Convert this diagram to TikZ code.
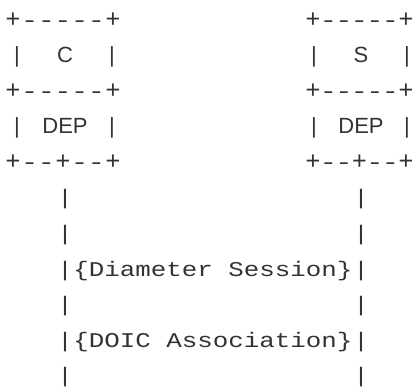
\documentclass[tikz,border=0pt]{standalone}
\usepackage{fontspec}
\newfontfamily\boxfont{Liberation Sans}
\newfontfamily\codefont{Liberation Mono}
\definecolor{ink}{HTML}{333333}
\begin{document}
\begin{tikzpicture}[x=1pt,y=-1pt,
  bglyph/.style={inner sep=0pt, anchor=base, text=ink, font=\boxfont\fontsize{22}{22}\selectfont},
  mglyph/.style={inner sep=0pt, anchor=base, text=ink, font=\codefont\fontsize{21}{21}\selectfont}]
\useasboundingbox (0,0) rectangle (417,387);
% rows: baseline y = 27.5 + 35.5 r
% left box (x0 = 13, pitch 16.67), right box (x0 = 313, pitch 15.5)
\foreach \b/\xa/\p/\xl/\xr in {l/13/16.67/17/112, r/313/15.5/314/407}{
  \foreach \r in {0,2}{
    \node[bglyph] (\b p\r a) at (\xa, 27.5+35.5*\r) {\scalebox{1.15}{+}};
    \node[bglyph] (\b p\r b) at (\xa+6*\p, 27.5+35.5*\r) {\scalebox{1.15}{+}};
    \foreach \k in {1,...,5}{
      \node[bglyph] (\b d\r\k) at (\xa+\k*\p, 27.5+35.5*\r) {\scalebox{1.45}[1]{-}};
    }
  }
  \node[bglyph] (\b p4a) at (\xa, 169.5) {\scalebox{1.15}{+}};
  \node[bglyph] (\b p4m) at (\xa+3*\p, 169.5) {\scalebox{1.15}{+}};
  \node[bglyph] (\b p4b) at (\xa+6*\p, 169.5) {\scalebox{1.15}{+}};
  \foreach \k in {1,2,4,5}{
    \node[bglyph] (\b d4\k) at (\xa+\k*\p, 169.5) {\scalebox{1.45}[1]{-}};
  }
  \foreach \r in {1,3}{
    \node[bglyph] (\b v\r a) at (\xl, 27.5+35.5*\r) {|};
    \node[bglyph] (\b v\r b) at (\xr, 27.5+35.5*\r) {|};
  }
}
\node[bglyph] (lname) at (65, 63) {C};
\node[bglyph] (ldep) at (65, 134) {DEP};
\node[bglyph] (rname) at (361, 63) {S};
\node[bglyph] (rdep) at (361, 134) {DEP};
% vertical lines
\foreach \r in {5,...,10}{
  \node[mglyph] (lv\r) at (65, 27.5+35.5*\r) {\scalebox{1.23}[1]{|}};
  \node[mglyph] (rv\r) at (361, 27.5+35.5*\r) {\scalebox{1.23}[1]{|}};
}
\node[mglyph] (sess) at (213, 276) {\scalebox{1.23}[1]{\{Diameter Session\}}};
\node[mglyph] (assoc) at (213, 347) {\scalebox{1.23}[1]{\{DOIC Association\}}};
\end{tikzpicture}
\end{document}
